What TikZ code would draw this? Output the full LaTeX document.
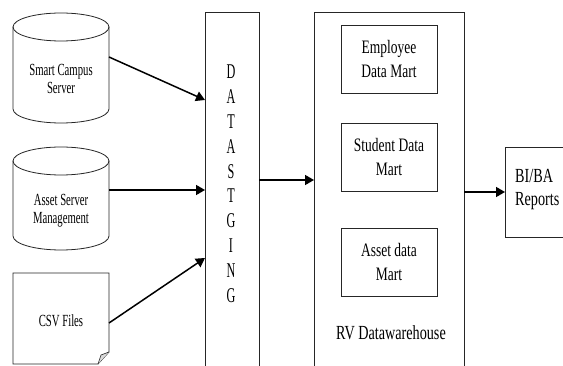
\documentclass[tikz,border=0pt]{standalone}
\usepackage{fontspec}
\setmainfont{Liberation Serif}
\newfontfamily\fA[FakeStretch=0.63]{Liberation Serif}
\newfontfamily\fB[FakeStretch=0.71]{Liberation Serif}
\newfontfamily\fC[FakeStretch=0.58]{Liberation Serif}
\usetikzlibrary{arrows.meta}
\tikzset{
  outline/.style={draw=black!85, line width=0.8pt},
  conn/.style={draw=black, line width=1.5pt, -{Triangle[length=9pt,width=10pt]}},
  cyltext/.style={align=center, inner sep=0pt, font=\fA\fontsize{17}{18}\selectfont},
  martbox/.style={outline, minimum width=96pt, minimum height=68pt, align=center, inner sep=0pt, font=\fB\fontsize{19}{24}\selectfont},
  letter/.style={inner sep=0pt, font=\fC\fontsize{21}{24}\selectfont},
  ghost/.style={draw=none, inner sep=0pt},
}
\begin{document}
\begin{tikzpicture}[x=1pt,y=-1pt]
\useasboundingbox (0,0) rectangle (563,366);
% Smart Campus Server cylinder
\draw[outline] (13,27) -- (13,109) arc (180:360:48pt and 14pt) -- (109,27);
\draw[outline] (61,27) ellipse (48pt and 14pt);
\node[cyltext] (scs) at (61,79) {Smart Campus\\Server};
\coordinate (scsR) at (109,57);
% Asset Server Management cylinder
\draw[outline] (13,161) -- (13,236) arc (180:360:48pt and 14pt) -- (109,161);
\draw[outline] (61,161) ellipse (48pt and 14pt);
\node[cyltext] (asm) at (61,211) {Asset Server\\Management};
\coordinate (asmR) at (109,190);
% CSV Files document
\draw[outline] (13,273) -- (109,273) -- (109,352) -- (98,364) -- (13,364) -- cycle;
\draw[outline, fill=black!15, line width=0.6pt] (109,352) -- (101,355) -- (98,364);
\node[cyltext] (csv) at (61,321) {CSV Files};
\coordinate (csvR) at (109,323);
% Staging column
\node[ghost, minimum width=54pt, minimum height=368pt, anchor=north west] (stg) at (205,12) {};
\draw[outline] (stg.south west) -- (stg.north west) -- (stg.north east) -- (stg.south east);
\foreach \l [count=\i from 0] in {D,A,T,A,S,T,G,I,N,G}
  \node[letter] at (231,72+24.8*\i) {\l};
% Data warehouse column
\node[ghost, minimum width=150pt, minimum height=368pt, anchor=north west] (rv) at (314,12) {};
\draw[outline] (rv.south west) -- (rv.north west) -- (rv.north east) -- (rv.south east);
\node[martbox] (emp) at (389,59) {Employee\\Data Mart};
\node[martbox] (stu) at (389,157) {Student Data\\Mart};
\node[martbox] (ast) at (389,262) {Asset data\\Mart};
\node[inner sep=0pt, anchor=base, font=\fB\fontsize{20}{22}\selectfont] (rvl) at (391,340) {RV Datawarehouse};
% BI/BA Reports
\node[outline, minimum width=57.5pt, minimum height=90pt, anchor=north west] (bi) at (505,147) {};
\node[inner sep=0pt, anchor=west, align=left, font=\fB\fontsize{20}{23}\selectfont] (bil) at (515,190) {BI/BA\\Reports};
% connectors
\draw[conn] (scsR) -- (stg.west |- 0,100);
\draw[conn] (asmR) -- (stg.west |- 0,190);
\draw[conn] (csvR) -- (stg.west |- 0,258);
\draw[conn] (stg.east |- 0,180) -- (rv.west |- 0,180);
\draw[conn] (rv.east |- 0,192) -- (bi.west |- 0,192);
\end{tikzpicture}
\end{document}
